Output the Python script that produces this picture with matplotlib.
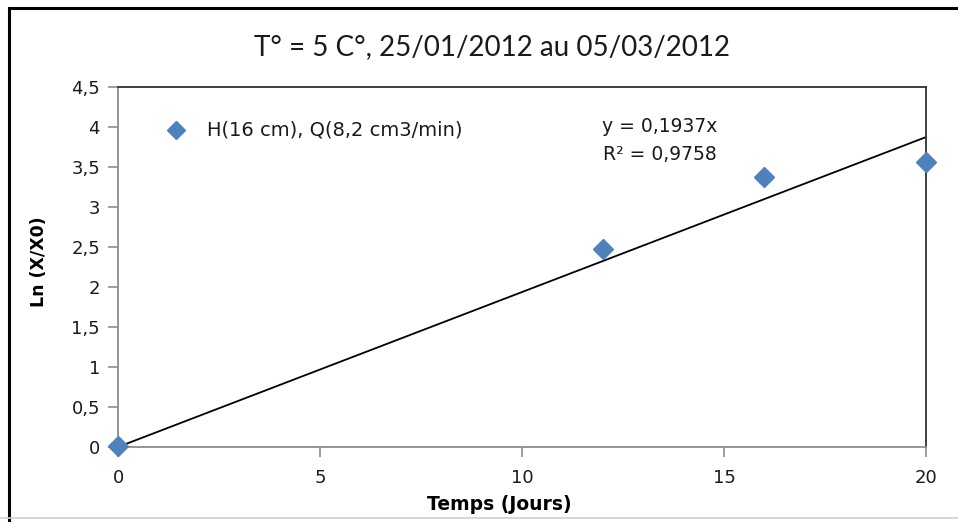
import matplotlib
matplotlib.use("Agg")
import matplotlib.pyplot as plt
from matplotlib.lines import Line2D

plt.rcParams['font.family'] = ['DejaVu Sans']

# Measurements
temps = [0, 12, 16, 20]
ln_ratio = [0.01, 2.47, 3.38, 3.56]
slope = 0.1937
r2 = 0.9758
x_ticks = [0, 5, 10, 15, 20]
y_ticks = [0, 0.5, 1, 1.5, 2, 2.5, 3, 3.5, 4, 4.5]
y_tick_labels = ['0', '0,5', '1', '1,5', '2', '2,5', '3', '3,5', '4', '4,5']
series_label = 'H(16 cm), Q(8,2 cm3/min)'
title = 'T° = 5 C°, 25/01/2012 au 05/03/2012'

W, H = 958, 522
fig = plt.figure(figsize=(W / 100, H / 100), dpi=100)
fig.patch.set_facecolor('white')

# Outer frame lines
fig.add_artist(Line2D([9 / W, 9 / W], [0, 1 - 8 / H], transform=fig.transFigure,
                      color='black', lw=2.2))
fig.add_artist(Line2D([9 / W, 1], [1 - 8 / H, 1 - 8 / H], transform=fig.transFigure,
                      color='black', lw=2.2))
fig.add_artist(Line2D([0, 1], [4 / H, 4 / H], transform=fig.transFigure,
                      color='#d0d0d0', lw=1.2))

left, right = 118 / W, 926 / W
bottom, top = 1 - 447 / H, 1 - 87 / H
ax = fig.add_axes([left, bottom, right - left, top - bottom])

# Trend line through origin
ax.plot([0, 20], [0, slope * 20], color='black', lw=1.3, zorder=2)
ax.plot(temps, ln_ratio, linestyle='none', marker='D', markersize=10.5,
        color='#4f81bd', zorder=3, clip_on=False)

ax.set_xlim(0, 20)
ax.set_ylim(0, 4.5)
ax.set_xticks(x_ticks)
ax.set_xticklabels([str(t) for t in x_ticks])
ax.set_yticks(y_ticks)
ax.set_yticklabels(y_tick_labels)

for side in ('left', 'bottom'):
    ax.spines[side].set_color('#8c8c8c')
    ax.spines[side].set_linewidth(1.3)
for side in ('top', 'right'):
    ax.spines[side].set_color('#303030')
    ax.spines[side].set_linewidth(1.3)

ax.tick_params(axis='both', direction='out', length=7, width=1.2, color='#8c8c8c',
               labelsize=13, labelcolor='#1a1a1a')
ax.tick_params(axis='x', pad=9)
ax.tick_params(axis='y', pad=6)

ax.set_xlabel('Temps (Jours)', fontsize=13.5, fontweight='bold')
ax.xaxis.set_label_coords(0.4715, -0.133)
ax.set_ylabel('Ln (X/X0)', fontsize=12.5, fontweight='bold')
ax.yaxis.set_label_coords(-0.087, 0.514)

fig.text(492 / W, 1 - 47 / H, title, ha='center', va='center', fontsize=20,
         color='#1a1a1a', family=['Lato', 'DejaVu Sans'])

# Legend entry
fig.add_artist(Line2D([176 / W], [1 - 130 / H], transform=fig.transFigure,
                      marker='D', markersize=9.5, color='#4f81bd', linestyle='none'))
fig.text(207 / W, 1 - 130 / H, series_label, ha='left', va='center', fontsize=14,
         color='#1a1a1a')

# Equation of the fitted line
eq = 'y = ' + f'{slope:.4f}'.replace('.', ',') + 'x'
rr = 'R² = ' + f'{r2:.4f}'.replace('.', ',')
fig.text(660 / W, 1 - 126 / H, eq, ha='center', va='center', fontsize=13.5, color='#1a1a1a')
fig.text(660 / W, 1 - 154 / H, rr, ha='center', va='center', fontsize=13.5, color='#1a1a1a')

fig.savefig('out.png', dpi=100)
